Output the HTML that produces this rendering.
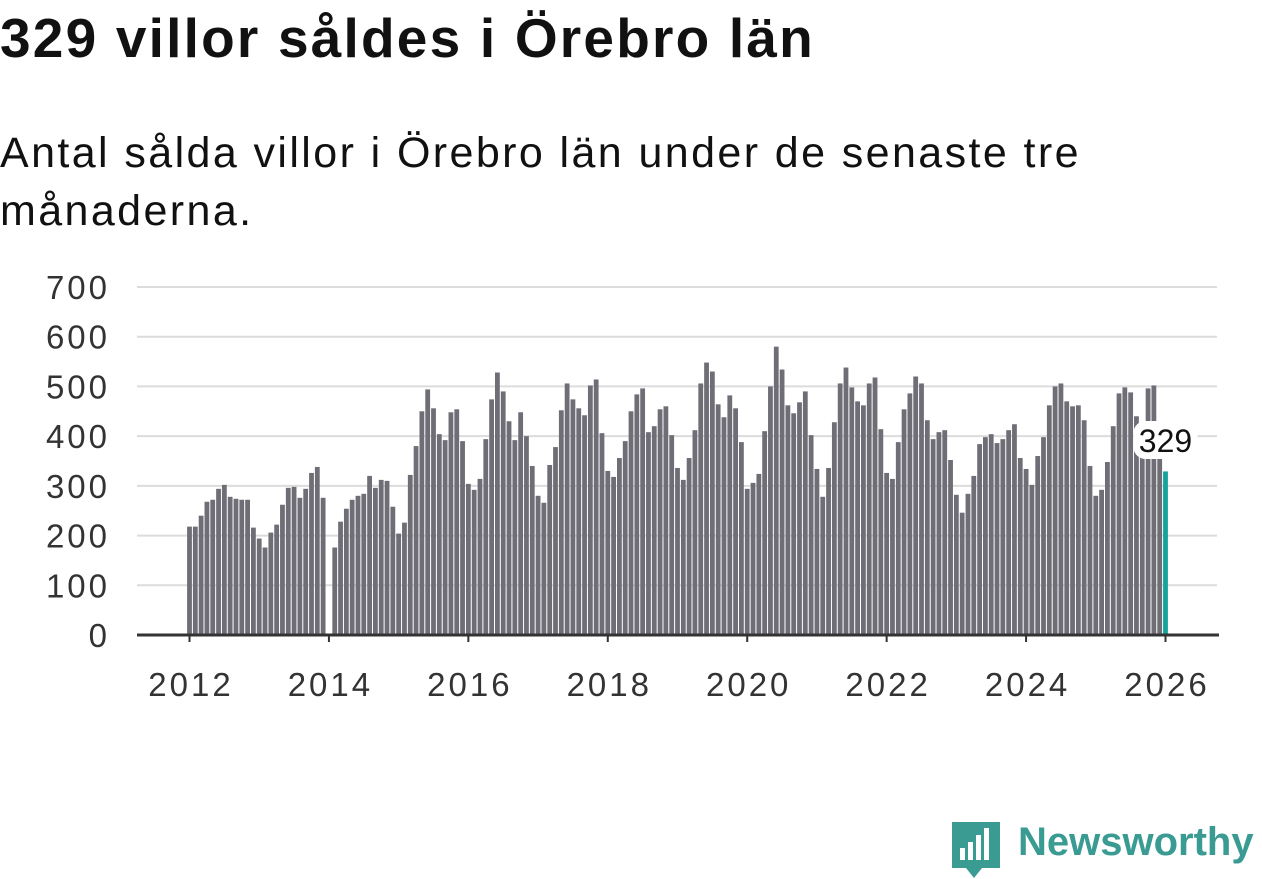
<!DOCTYPE html>
<html><head><meta charset="utf-8">
<style>
body{margin:0;background:#fff;width:1262px;height:879px;overflow:hidden;font-family:"Liberation Sans",sans-serif;color:#111;}
h1{position:absolute;left:0;top:6px;margin:0;font-size:55px;font-weight:bold;letter-spacing:2.2px;white-space:nowrap;}
.sub{position:absolute;left:0;top:124px;margin:0;font-size:43px;line-height:58px;letter-spacing:2.4px;width:1120px;color:#111;}
svg{position:absolute;left:0;top:0;}
.logo{position:absolute;left:1018px;top:820px;font-size:40px;font-weight:bold;color:#3a9b93;white-space:nowrap;}
</style></head><body>
<h1>329 villor såldes i Örebro län</h1>
<p class="sub">Antal sålda villor i Örebro län under de senaste tre månaderna.</p>
<svg id="chart" width="1262" height="879"></svg>
<svg width="1262" height="879" style="pointer-events:none">
<path d="M952 822 h48 v46 h-18 l-8 10 l-8 -10 h-14 z" fill="#3a9b93"/>
<rect x="960" y="848" width="5" height="12" fill="#fff"/><rect x="968" y="842" width="5" height="18" fill="#fff"/><rect x="976" y="835" width="5" height="25" fill="#fff"/><rect x="984" y="828" width="5" height="32" fill="#fff"/>
</svg>
<div class="logo">Newsworthy</div>
<script>
const startYear = 2012;
const values = [
218,218,240,268,272,294,302,278,274,272,272,216,
194,176,206,222,262,296,298,276,294,326,338,276,
null,176,228,254,272,280,284,320,296,312,310,258,
204,226,322,380,450,494,456,404,392,448,454,390,
304,292,314,394,474,528,490,430,392,448,400,340,
280,266,342,378,452,506,474,456,442,502,514,406,
330,318,356,390,450,484,496,408,420,454,460,402,
336,312,356,412,506,548,530,464,438,482,456,388,
294,306,324,410,500,580,534,462,446,468,490,402,
334,278,336,428,506,538,498,470,462,506,518,414,
326,314,388,454,486,520,506,432,394,408,412,352,
282,246,284,320,384,398,404,386,394,412,424,356,
334,302,360,398,462,500,506,470,460,462,432,340,
280,292,348,420,486,498,488,440,420,496,502,356,
329];
const yTicks = [0,100,200,300,400,500,600,700];
const xTickYears = [2012,2014,2016,2018,2020,2022,2024,2026];
const labelText = "329";

const svg = document.getElementById('chart');
const NS = 'http://www.w3.org/2000/svg';
const y0 = 635, pxPerUnit = 348/700;
const x0 = 189.5, step = 976/168;
const yScale = v => y0 - v*pxPerUnit;
const xScale = i => x0 + i*step;
function mk(tag, attrs){const e=document.createElementNS(NS,tag);for(const k in attrs)e.setAttribute(k,attrs[k]);svg.appendChild(e);return e;}

yTicks.forEach(t=>{
  if(t>0){const g=mk('line',{x1:137,x2:1217,y1:yScale(t),y2:yScale(t),stroke:'#dcdcdc','stroke-width':2});
  
  }
  const tx=mk('text',{x:110,y:yScale(t)+12,'text-anchor':'end','font-size':33,'letter-spacing':3,fill:'#333','font-family':'Liberation Sans, sans-serif'});
  tx.textContent=t;
  
  
});
values.forEach((v,i)=>{
  if(v==null) return;
  const last = i===values.length-1;
  const r=mk('rect',{x:xScale(i)-2.4,y:yScale(v),width:4.8,height:v*pxPerUnit,fill:last?'#14a39a':'#6f6e76'});
  
  
});
const ax=mk('line',{x1:137,x2:1219,y1:y0,y2:y0,stroke:'#333','stroke-width':3});


xTickYears.forEach(yr=>{
  const x=xScale((yr-startYear)*12);
  const tk=mk('line',{x1:x,x2:x,y1:y0,y2:y0+7,stroke:'#333','stroke-width':2});
  
  
  const tx=mk('text',{x:x+1.5,y:696,'text-anchor':'middle','font-size':33,'letter-spacing':3,fill:'#333','font-family':'Liberation Sans, sans-serif'});
  tx.textContent=yr;
  
  
});
const li=values.length-1;
const lx=xScale(li);
const bg=mk('rect',{x:lx-32,y:421,width:64,height:38,rx:12,fill:'#fff'});


const lt=mk('text',{x:lx,y:452,'text-anchor':'middle','font-size':32,fill:'#111','font-family':'Liberation Sans, sans-serif'});
lt.textContent=labelText;


</script>
</body></html>
